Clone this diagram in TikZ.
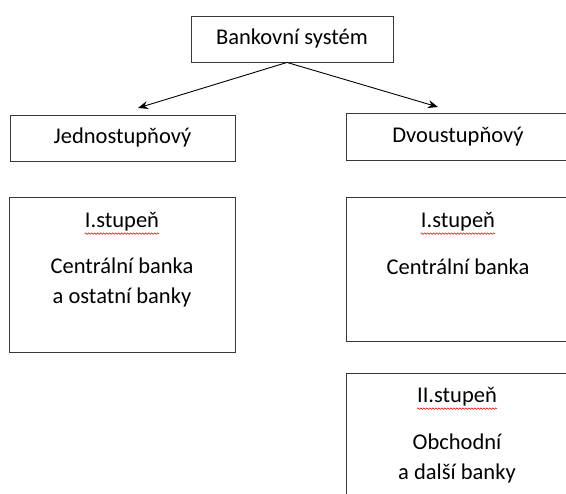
\documentclass[tikz,border=0pt]{standalone}
\usepackage{fontspec}
\setmainfont{Carlito}
\usepackage{tikz}
\usetikzlibrary{arrows.meta}
\usetikzlibrary{decorations.pathmorphing}

\begin{document}
\begin{tikzpicture}[>={Stealth[length=10pt,width=8pt]},x=1pt,y=-1pt,
	box/.style={draw=black!78,line width=0.9pt,inner sep=0pt,font=\fontsize{22.5}{30}\selectfont},
	txt/.style={inner sep=0pt,align=center,font=\fontsize{22.5}{30}\selectfont},
	spell/.style={draw=red!85!black,line width=0.5pt,decorate,decoration={snake,amplitude=0.8pt,segment length=3pt}}
	]
	\useasboundingbox (0,0) rectangle (566,494);
	\node[box,minimum width=202pt,minimum height=46pt] (sys) at (292,39) {Bankovní systém};
	\node[box,minimum width=225pt,minimum height=46pt] (jedno) at (122.5,138) {Jednostupňový};
	\node[box,minimum width=224pt,minimum height=47pt] (dvou) at (458,136.5) {Dvoustupňový};
	\node[box,minimum width=226pt,minimum height=155pt] (jbox) at (122,274.5) {};
	\node[box,minimum width=224pt,minimum height=144pt] (dbox1) at (458,269) {};
	\node[box,minimum width=224pt,minimum height=155pt] (dbox2) at (458,450.5) {};
	\coordinate (jtip) at (138,108);
	\coordinate (dtip) at (438,107);
	\draw[->,line width=0.9pt] ([xshift=-5pt]sys.south) -- (jtip);
	\draw[->,line width=0.9pt] ([xshift=-5pt]sys.south) -- (dtip);
	\node[txt] (jst) at (122,222) {I.stupeň};
	\node[txt] (jtx) at (122,283) {Centrální banka\\a ostatní banky};
	\node[txt] (dst1) at (458,222) {I.stupeň};
	\node[txt] (dtx1) at (458,267) {Centrální banka};
	\node[txt] (dst2) at (457,397) {II.stupeň};
	\node[txt] (dtx2) at (457,459) {Obchodní\\a další banky};
	\draw[spell] ([yshift=-2pt]jst.south west) -- ([yshift=-2pt]jst.south east);
	\draw[spell] ([yshift=-2pt]dst1.south west) -- ([yshift=-2pt]dst1.south east);
	\draw[spell] ([yshift=-2pt]dst2.south west) -- ([yshift=-2pt]dst2.south east);
\end{tikzpicture}
\end{document}
